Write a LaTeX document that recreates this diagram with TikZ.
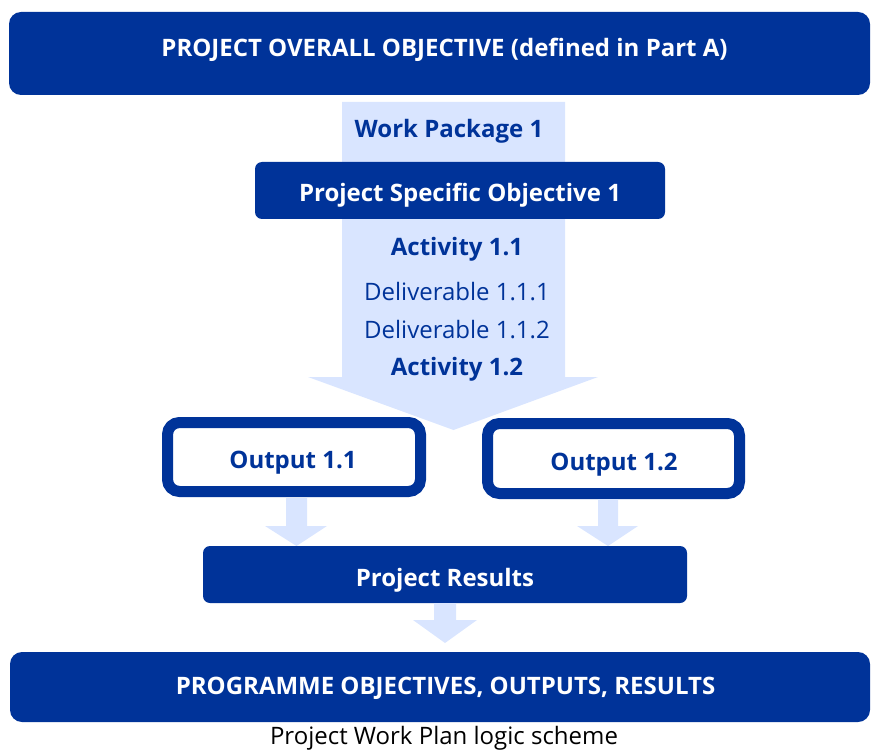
\documentclass[tikz,border=0pt]{standalone}
\usepackage{fontspec}
\setmainfont{Open Sans}
\definecolor{pdblue}{HTML}{003399}
\definecolor{pdlight}{HTML}{D9E5FF}
\begin{document}
\begin{tikzpicture}[x=1pt,y=-1pt,
  darkbox/.style={fill=pdblue, rounded corners=12pt, inner sep=0pt, outer sep=0pt},
  outbox/.style={draw=pdblue, line width=11pt, fill=white, rounded corners=12pt, inner sep=0pt, outer sep=0pt},
  whitetxt/.style={text=white, font=\bfseries\fontsize{24}{28}\selectfont, anchor=base, inner sep=0pt},
  bluebold/.style={text=pdblue, font=\bfseries\fontsize{24}{28}\selectfont, anchor=base, inner sep=0pt},
  bluereg/.style={text=pdblue, font=\fontsize{24}{28}\selectfont, anchor=base, inner sep=0pt},
  blockarrow/.style={fill=pdlight}
]
\useasboundingbox (0,0) rectangle (872,751);

% wide flow arrow behind the work package
\fill[blockarrow] (342,102) -- (565,102) -- (565,377) -- (598,377) -- (453.5,430)
  -- (308,377) -- (342,377) -- cycle;

% overall objective banner
\path[darkbox] (9,12) rectangle (870,95);
\node[whitetxt] (overall) at (444.5,57) {PROJECT OVERALL OBJECTIVE (defined in Part A)};

% work package content
\node[bluebold] (wp) at (449,138) {Work Package 1};
\path[darkbox, rounded corners=7pt] (255,162) rectangle (665,219);
\node[whitetxt] (pso) at (460,202) {Project Specific Objective 1};
\node[bluebold] (act11) at (457,255) {Activity 1.1};
\node[bluereg] (del111) at (457,300) {Deliverable 1.1.1};
\node[bluereg] (del112) at (457,338) {Deliverable 1.1.2};
\node[bluebold] (act12) at (457,375) {Activity 1.2};

% outputs
\path[outbox] (167.5,422.5) rectangle (420.5,491.5);
\node[bluebold] (out11) at (293,468) {Output 1.1};
\path[outbox] (487.5,423.5) rectangle (739.5,493.5);
\node[bluebold] (out12) at (614,470) {Output 1.2};

% small arrows from outputs to results
\fill[blockarrow] (286,498) -- (307,498) -- (307,526) -- (327,526) -- (296.5,546)
  -- (265,526) -- (286,526) -- cycle;
\fill[blockarrow] (598,499) -- (618,499) -- (618,526) -- (638,526) -- (608,546)
  -- (577,526) -- (598,526) -- cycle;

% project results
\path[darkbox, rounded corners=7pt] (203,546) rectangle (687,603);
\node[whitetxt] (results) at (445,586) {Project Results};

% arrow to programme level
\fill[blockarrow] (434,603) -- (456,603) -- (456,620) -- (477,620) -- (445,643)
  -- (413,620) -- (434,620) -- cycle;

% programme banner
\path[darkbox] (10,652) rectangle (870,722);
\node[whitetxt] (programme) at (445.5,694) {PROGRAMME OBJECTIVES, OUTPUTS, RESULTS};

% caption
\node[text=black, font=\fontsize{24}{28}\selectfont, anchor=base, inner sep=0pt] (caption) at (444,744) {Project Work Plan logic scheme};
\end{tikzpicture}
\end{document}
